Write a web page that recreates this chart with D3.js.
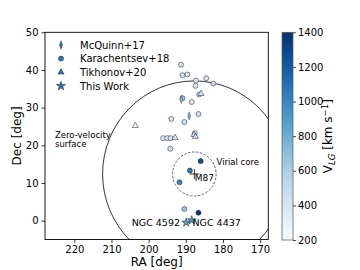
<!DOCTYPE html>
<html>
<head>
<meta charset="utf-8">
<script src="https://cdn.jsdelivr.net/npm/d3@7"></script>
<style>
  body { margin: 0; background: #fff; }
  svg { font-family: "DejaVu Sans", sans-serif; }
</style>
</head>
<body>
<div id="chart"></div>
<script>
// [RA, Dec, V_LG]
var mcquinn = [[191.2, 32.2, 720], [189.1, 27.8, 760]];
var karachentsev = [
  [191.3, 41.4, 430], [190.9, 38.6, 450], [189.6, 38.8, 440], [184.5, 37.8, 400],
  [187.3, 37.2, 420], [187.4, 35.8, 380], [182.6, 36.4, 430], [186.4, 33.5, 450],
  [190.9, 32.5, 650], [188.4, 31.5, 380], [193.9, 27.0, 420], [190.4, 26.2, 450],
  [186.6, 28.3, 440], [196.1, 21.9, 360], [195.0, 21.9, 380], [194.1, 21.9, 400],
  [187.6, 23.2, 450], [194.2, 19.1, 420],
  [186.0, 15.8, 1250], [188.9, 13.3, 1080], [191.7, 10.2, 1000],
  [190.4, 3.1, 650], [186.6, 2.1, 1380]
];
var tikhonov = [[185.9, 33.7, 420], [187.8, 22.8, 430], [187.4, 22.3, 420], [192.9, 22.0, 400], [203.6, 25.2, 250]];
var thisWork = [[189.9, -0.5, 880], [188.4, 0.1, 900]];
var legendLabels = ['McQuinn+17', 'Karachentsev+18', 'Tikhonov+20', 'This Work'];
var xTicks = [220, 210, 200, 190, 180, 170];
var yTicks = [0, 10, 20, 30, 40, 50];
var cbTicks = [200, 400, 600, 800, 1000, 1200, 1400];
var m87 = [187.7, 12.39];
var zvsRadius = 24.7, virialRadius = 5.85;

var width = 360, height = 270;
var margin = {top: 32.3, left: 45, right: 91.7, bottom: 30.5};

var svg = d3.select('#chart').append('svg')
  .attr('width', width)
  .attr('height', height);

var x = d3.scaleLinear().domain([227.9, 167.8]).range([margin.left, width - margin.right]);
var y = d3.scaleLinear().domain([-5, 50]).range([height - margin.bottom, margin.top]);
var color = d3.scaleSequential(d3.interpolateBlues).domain([200, 1400]);

svg.append('clipPath').attr('id', 'clip')
  .append('rect')
  .attr('x', x.range()[0]).attr('y', y.range()[1])
  .attr('width', x.range()[1] - x.range()[0])
  .attr('height', y.range()[0] - y.range()[1]);

var plot = svg.append('g').attr('clip-path', 'url(#clip)');
var kx = Math.abs(x(1) - x(0)), ky = Math.abs(y(1) - y(0));

// zero-velocity surface
plot.append('ellipse')
  .attr('cx', x(m87[0])).attr('cy', y(m87[1]))
  .attr('rx', zvsRadius * kx).attr('ry', zvsRadius * ky)
  .attr('fill', 'none').attr('stroke', '#000').attr('stroke-width', 0.8);

// virial core
plot.append('ellipse')
  .attr('cx', x(m87[0])).attr('cy', y(m87[1]))
  .attr('rx', virialRadius * kx).attr('ry', virialRadius * ky)
  .attr('fill', 'none').attr('stroke', '#222').attr('stroke-width', 0.7)
  .attr('stroke-dasharray', '2.5,1.5');

// M87 cross
var mx = x(m87[0]), my = y(m87[1]);
plot.append('path')
  .attr('d', 'M' + (mx - 5) + ',' + my + 'H' + (mx + 5) + 'M' + mx + ',' + (my - 5) + 'V' + (my + 5))
  .attr('stroke', '#000').attr('stroke-width', 0.8);

function drawSet(data, type, size, sx) {
  plot.selectAll(null)
    .data(data)
    .enter().append('path')
    .attr('d', d3.symbol().type(type).size(size))
    .attr('transform', function(d) {
      return 'translate(' + x(d[0]) + ',' + y(d[1]) + ') scale(' + (sx || 1) + ',1)';
    })
    .attr('fill', function(d) { return color(d[2]); })
    .attr('stroke', '#1a1a2a')
    .attr('stroke-width', 0.5);
}

drawSet(karachentsev, d3.symbolCircle, 20);
drawSet(tikhonov, d3.symbolTriangle, 16);
drawSet(mcquinn, d3.symbolDiamond, 20, 0.6);
drawSet(thisWork, d3.symbolStar, 24);

// annotations
svg.append('text').attr('x', 55).attr('y', 138).attr('font-size', 8.5).text('Zero-velocity');
svg.append('text').attr('x', 55).attr('y', 147).attr('font-size', 8.5).text('surface');
svg.append('text').attr('x', 216.5).attr('y', 165).attr('font-size', 8.5).text('Virial core');
svg.append('text').attr('x', mx + 0.5).attr('y', my + 7).attr('font-size', 9).text('M87');
svg.append('text').attr('x', 180).attr('y', 226).attr('font-size', 9.5)
  .attr('text-anchor', 'end').text('NGC 4592');
svg.append('text').attr('x', 192.5).attr('y', 226).attr('font-size', 9.5).text('NGC 4437');

// frame
svg.append('rect')
  .attr('x', x.range()[0]).attr('y', y.range()[1])
  .attr('width', x.range()[1] - x.range()[0])
  .attr('height', y.range()[0] - y.range()[1])
  .attr('fill', 'none').attr('stroke', '#000').attr('stroke-width', 0.9);

// axes
var xAxis = svg.append('g')
  .attr('transform', 'translate(0,' + y.range()[0] + ')')
  .call(d3.axisBottom(x).tickValues(xTicks).tickSize(3.5).tickPadding(3).tickSizeOuter(0));
var yAxis = svg.append('g')
  .attr('transform', 'translate(' + x.range()[0] + ',0)')
  .call(d3.axisLeft(y).tickValues(yTicks).tickSize(3.5).tickPadding(3).tickSizeOuter(0));
[xAxis, yAxis].forEach(function(a) {
  a.select('.domain').remove();
  a.selectAll('text').attr('font-size', 10).attr('fill', '#000')
    .attr('font-family', '"DejaVu Sans", sans-serif');
  a.selectAll('line').attr('stroke-width', 0.8);
});

svg.append('text')
  .attr('x', (x.range()[0] + x.range()[1]) / 2).attr('y', 266)
  .attr('text-anchor', 'middle').attr('font-size', 12).text('RA [deg]');
svg.append('text')
  .attr('transform', 'translate(21,' + ((y.range()[0] + y.range()[1]) / 2) + ') rotate(-90)')
  .attr('text-anchor', 'middle').attr('font-size', 12).text('Dec [deg]');

// legend
var legendTypes = [
  {type: d3.symbolDiamond, size: 22, sx: 0.6},
  {type: d3.symbolCircle, size: 20, sx: 1},
  {type: d3.symbolTriangle, size: 16, sx: 1},
  {type: d3.symbolStar, size: 26, sx: 1}
];
var legendY = [45, 58.6, 72.3, 86];
legendLabels.forEach(function(lab, i) {
  svg.append('path')
    .attr('d', d3.symbol().type(legendTypes[i].type).size(legendTypes[i].size))
    .attr('transform', 'translate(61,' + legendY[i] + ') scale(' + legendTypes[i].sx + ',1)')
    .attr('fill', '#2f74b5').attr('stroke', '#1a1a2a').attr('stroke-width', 0.5);
  svg.append('text').attr('x', 80).attr('y', legendY[i] + 3.6)
    .attr('font-size', 10).text(lab);
});

// colorbar
var cbX = 282, cbW = 11;
var cy = d3.scaleLinear().domain([200, 1400]).range([240, 32.3]);
var grad = svg.append('defs').append('linearGradient')
  .attr('id', 'cbgrad').attr('x1', 0).attr('y1', 1).attr('x2', 0).attr('y2', 0);
d3.range(0, 1.0001, 0.05).forEach(function(t) {
  grad.append('stop').attr('offset', t).attr('stop-color', d3.interpolateBlues(t));
});
svg.append('rect')
  .attr('x', cbX).attr('y', cy(1400)).attr('width', cbW).attr('height', cy(200) - cy(1400))
  .attr('fill', 'url(#cbgrad)').attr('stroke', '#555').attr('stroke-width', 0.7);
var cbAxis = svg.append('g')
  .attr('transform', 'translate(' + (cbX + cbW) + ',0)')
  .call(d3.axisRight(cy).tickValues(cbTicks).tickFormat(d3.format('d'))
    .tickSize(3).tickPadding(2).tickSizeOuter(0));
cbAxis.select('.domain').remove();
cbAxis.selectAll('text').attr('font-size', 10).attr('fill', '#000')
  .attr('font-family', '"DejaVu Sans", sans-serif');
cbAxis.selectAll('line').attr('stroke-width', 0.7);

var cbLabel = svg.append('text')
  .attr('transform', 'translate(332,' + ((cy(200) + cy(1400)) / 2) + ') rotate(-90)')
  .attr('text-anchor', 'middle').attr('font-size', 12);
cbLabel.append('tspan').text('V');
cbLabel.append('tspan').attr('font-size', 8.5).attr('font-style', 'italic').attr('dy', 2.5).text('LG');
cbLabel.append('tspan').attr('dy', -2.5).text(' [km s');
cbLabel.append('tspan').attr('font-size', 8.5).attr('dy', -4.5).text('\u22121');
cbLabel.append('tspan').attr('dy', 4.5).text(']');
</script>
</body>
</html>
